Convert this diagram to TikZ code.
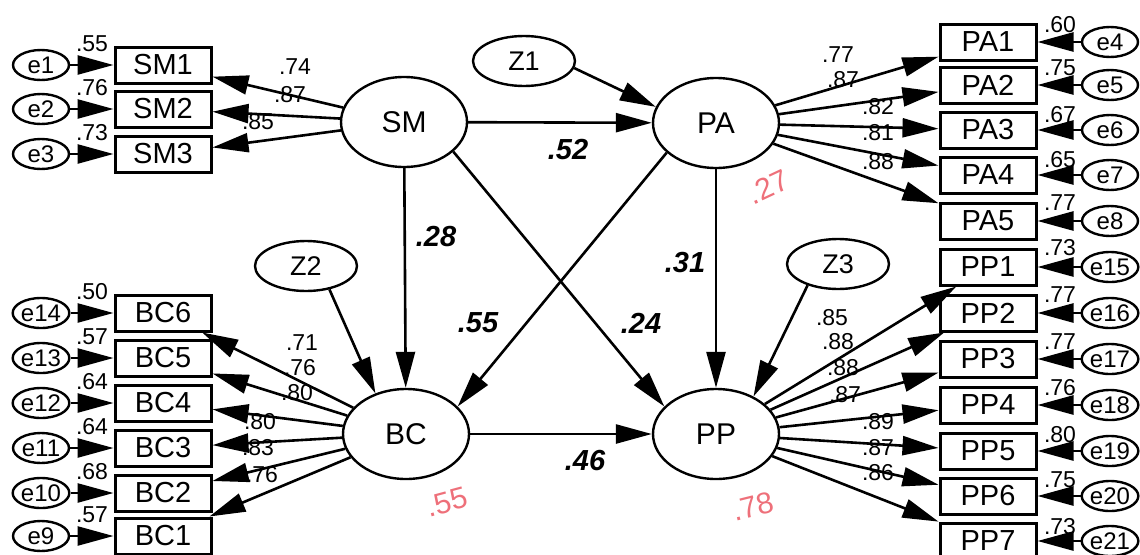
\documentclass[tikz,border=0pt]{standalone}
\usepackage{fontspec}
\setmainfont{Liberation Sans}
\usetikzlibrary{arrows.meta,shapes.geometric}
\definecolor{rsq}{RGB}{238,112,122}
\begin{document}
\begin{tikzpicture}[x=1pt,y=-1pt,
  lat/.style={ellipse, draw, line width=2.4pt, minimum width=126pt, minimum height=90pt, inner sep=0pt, font=\fontsize{30}{32}\selectfont},
  zz/.style={ellipse, draw, line width=2.4pt, minimum width=102pt, minimum height=50pt, inner sep=0pt, font=\fontsize{27}{30}\selectfont},
  obs/.style={rectangle, draw, line width=3pt, minimum width=96pt, minimum height=36pt, inner sep=0pt, font=\fontsize{29}{30}\selectfont},
  err/.style={ellipse, draw, line width=2.4pt, minimum width=56pt, minimum height=30pt, inner sep=0pt, font=\fontsize{24}{26}\selectfont},
  ld/.style={font=\fontsize{23}{24}\selectfont, inner sep=0pt},
  coef/.style={font=\fontsize{29}{30}\selectfont\bfseries\itshape, inner sep=0pt},
  rsqlab/.style={font=\fontsize{30}{32}\selectfont, text=rsq, inner sep=0pt},
  arr/.style={-{Triangle[length=36pt,width=19pt]}, line width=2.6pt},
]
\useasboundingbox (0,0) rectangle (1140,554);

% latent variables
\node[lat] (SM) at (404,122) {SM};
\node[lat] (PA) at (716,123) {PA};
\node[lat] (BC) at (406,434) {BC};
\node[lat] (PP) at (716,434) {PP};
\node[zz] (Z1) at (524,61) {Z1};
\node[zz] (Z2) at (306,266) {Z2};
\node[zz] (Z3) at (838,264) {Z3};

% left indicators
\foreach \i/\y/\e/\r/\l/\lx/\ly in {1/65/1/.55/.74/295/67, 2/109/2/.76/.87/290/95, 3/154/3/.73/.85/258/122}{
  \node[obs] (SM\i) at (163,\y) {SM\i};
  \node[err] (e\e) at (41,\y) {e\e};
  \draw[arr] (e\e) -- (SM\i);
  \draw[arr] (SM) -- (SM\i);
  \node[ld] (rSM\i) at (92,\y-21) {\r};
  \node[ld] (lSM\i) at (\lx,\ly) {\l};
}
\foreach \i/\y/\e/\r/\l/\lx/\ly in {6/313/14/.50/.71/302/343, 5/358/13/.57/.76/300/368, 4/403/12/.64/.80/297/393, 3/448/11/.64/.80/260/422, 2/493/10/.68/.83/258/448, 1/536/9/.57/.76/262/475}{
  \node[obs] (BC\i) at (163,\y) {BC\i};
  \node[err] (e\e) at (41,\y) {e\e};
  \draw[arr] (e\e) -- (BC\i);
  \draw[arr] (BC) -- (BC\i);
  \node[ld] (rBC\i) at (92,\y-21) {\r};
  \node[ld] (lBC\i) at (\lx,\ly) {\l};
}

% right indicators
\foreach \i/\y/\e/\r/\ry/\l/\lx/\ly in {1/42/4/.60/25/.77/838/55, 2/85/5/.75/68/.87/843/80, 3/130/6/.67/115/.82/878/107, 4/175/7/.65/160/.81/878/133, 5/221/8/.77/203/.88/878/162}{
  \node[obs] (PA\i) at (988,\y) {PA\i};
  \node[err] (e\e) at (1110,\y) {e\e};
  \draw[arr] (e\e) -- (PA\i);
  \draw[arr] (PA) -- (PA\i);
  \node[ld] (rPA\i) at (1060,\ry) {\r};
  \node[ld] (lPA\i) at (\lx,\ly) {\l};
}
\foreach \i/\y/\e/\r/\ry/\l/\lx/\ly in {1/267/15/.73/248/.85/832/318, 2/313/16/.77/295/.88/838/342, 3/359/17/.77/342/.88/843/368, 4/405/18/.76/388/.87/845/395, 5/451/19/.80/435/.89/878/422, 6/496/20/.75/480/.87/878/448, 7/541/21/.73/527/.86/878/473}{
  \node[obs] (PP\i) at (988,\y) {PP\i};
  \node[err] (e\e) at (1110,\y) {e\e};
  \draw[arr] (e\e) -- (PP\i);
  \draw[arr] (PP) -- (PP\i);
  \node[ld] (rPP\i) at (1060,\ry) {\r};
  \node[ld] (lPP\i) at (\lx,\ly) {\l};
}

% structural paths
\draw[arr] (Z1.-8) -- (PA.165);
\draw[arr] (SM) -- (PA);
\draw[arr] (SM) -- (BC);
\draw[arr] (SM.-31) -- (PP.152);
\draw[arr] (PA.211) -- (BC.28);
\draw[arr] (PA) -- (PP);
\draw[arr] (BC) -- (PP);
\draw[arr] (Z2.-45) -- (BC.127);
\draw[arr] (Z3.215) -- (PP.45);

% path coefficients
\node[coef] (c52) at (568,150) {.52};
\node[coef] (c28) at (436,237) {.28};
\node[coef] (c31) at (685,263) {.31};
\node[coef] (c55) at (478,323) {.55};
\node[coef] (c24) at (641,323) {.24};
\node[coef] (c46) at (585,461) {.46};

% squared multiple correlations
\node[rsqlab, rotate=25] (r27) at (768,187) {.27};
\node[rsqlab, rotate=15] (r55) at (447,502) {.55};
\node[rsqlab, rotate=14] (r78) at (753,506) {.78};
\end{tikzpicture}
\end{document}
